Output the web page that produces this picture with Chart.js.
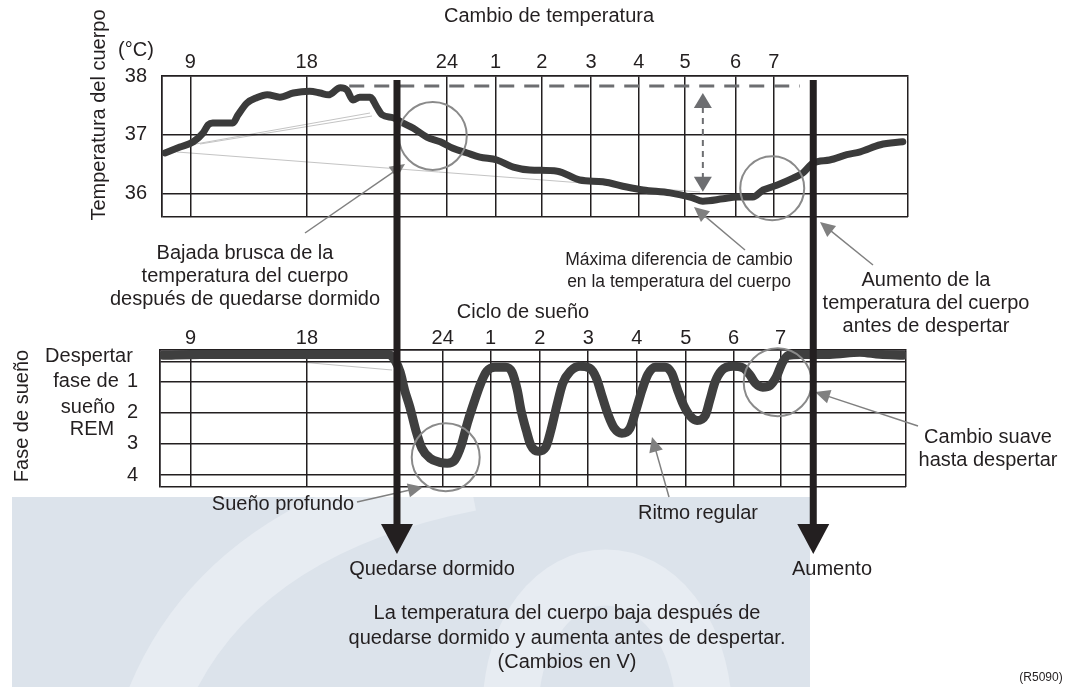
<!DOCTYPE html>
<html>
<head>
<meta charset="utf-8">
<script src="https://cdn.jsdelivr.net/npm/chart.js@4.4.1/dist/chart.umd.min.js"></script>
<style>
  html, body { margin: 0; padding: 0; background: #fff; }
  #wrap { position: relative; width: 1076px; height: 687px; overflow: hidden; }
  #wrap canvas { position: absolute; left: 0; top: 0; }
</style>
</head>
<body>
<div id="wrap">
  <canvas id="bg" width="1076" height="687"></canvas>
  <canvas id="tempChart" width="1076" height="687"></canvas>
  <canvas id="sleepChart" width="1076" height="687"></canvas>
  <canvas id="overlay" width="1076" height="687"></canvas>
</div>
<script>
// hour marks along the (non-uniform) time axis, axis runs 0..100
const hourLabels = ['9', '18', '24', '1', '2', '3', '4', '5', '6', '7'];
const tempHourPos = [3.8, 19.4, 38.2, 44.7, 50.9, 57.5, 63.9, 70.1, 76.9, 82.0];
const sleepHourPos = [4.1, 19.7, 37.9, 44.3, 50.9, 57.4, 63.9, 70.5, 76.9, 83.2];

// body temperature curve
const tempX = [0.4, 2.4, 4.2, 5.5, 6.2, 6.8, 8.7, 9.5, 10.2, 11.4, 12.7, 14.1, 15.8, 17.6, 19.8, 21.2,
  22.3, 23.9, 24.8, 25.6, 26.5, 27.9, 28.8, 29.5, 31.0, 32.3, 33.7, 35.5, 37.3, 39.0, 40.9, 42.6,
  44.9, 47.1, 49.3, 53.0, 56.0, 59.1, 62.3, 64.5, 68.1, 70.8, 72.5, 75.2, 77.1, 79.2, 80.6, 82.4,
  84.6, 85.9, 87.3, 89.5, 91.8, 93.6, 96.3, 99.3];
const tempC = [36.69, 36.79, 36.88, 37.03, 37.17, 37.20, 37.20, 37.20, 37.34, 37.54, 37.63, 37.68, 37.64, 37.71, 37.74, 37.71,
  37.68, 37.80, 37.76, 37.59, 37.64, 37.64, 37.47, 37.34, 37.29, 37.20, 37.11, 36.96, 36.88, 36.77, 36.69, 36.62,
  36.57, 36.45, 36.40, 36.38, 36.23, 36.20, 36.11, 36.06, 36.01, 35.94, 35.87, 35.91, 35.94, 35.94, 36.06, 36.14,
  36.26, 36.35, 36.52, 36.57, 36.66, 36.71, 36.83, 36.88];
const tempTicks = [38, 37, 36];

// sleep stage curve (0 = despierto, 4 = sueño profundo)
const sleepX = [0.4, 5.4, 12.1, 18.8, 25.5, 30.6, 31.5, 32.2, 32.8, 33.5, 34.3, 35.1, 36.2, 37.5, 38.5, 39.5,
  40.4, 41.2, 42.1, 43.0, 43.8, 44.9, 46.3, 47.2, 47.9, 48.4, 49.1, 49.7, 50.7, 51.7, 52.4, 53.2,
  54.0, 55.0, 56.3, 57.6, 58.5, 59.3, 60.1, 60.9, 61.9, 63.0, 63.8, 64.6, 65.4, 66.4, 67.7, 68.6,
  69.4, 70.2, 71.1, 72.0, 73.1, 73.7, 74.4, 75.3, 76.8, 78.2, 79.1, 79.8, 80.8, 81.8, 82.6, 83.4,
  84.2, 85.8, 89.8, 93.8, 96.5, 99.6];
const sleepStage = [0.17, 0.14, 0.14, 0.14, 0.14, 0.14, 0.33, 0.71, 1.29, 1.83, 2.57, 3.14, 3.46, 3.59, 3.62, 3.52,
  3.04, 2.34, 1.67, 1.06, 0.68, 0.55, 0.55, 0.71, 1.29, 1.93, 2.57, 3.04, 3.24, 3.11, 2.57, 1.77,
  1.06, 0.68, 0.52, 0.58, 0.90, 1.51, 2.09, 2.50, 2.66, 2.50, 1.93, 1.29, 0.78, 0.55, 0.55, 0.74,
  1.29, 1.77, 2.12, 2.25, 2.09, 1.61, 1.03, 0.65, 0.52, 0.58, 0.81, 1.06, 1.19, 1.13, 0.87, 0.42,
  0.17, 0.14, 0.14, 0.07, 0.14, 0.17];
const stageTicks = [0.37, 1, 2, 3, 4];

const ink = '#231f20';
const FONT = '"Liberation Sans", Arial, Helvetica, sans-serif';

// --- background watermark + faint leader lines ---
const bg = document.getElementById('bg').getContext('2d');
bg.fillStyle = '#fff';
bg.fillRect(0, 0, 1076, 687);
bg.save();
bg.beginPath();
bg.rect(12, 497, 798, 190);
bg.clip();
bg.fillStyle = '#dce3eb';
bg.fillRect(12, 497, 798, 190);
bg.strokeStyle = '#e7ecf2';
bg.lineWidth = 62;
bg.beginPath();
bg.moveTo(150, 720);
bg.quadraticCurveTo(215, 530, 470, 480);
bg.stroke();
bg.lineWidth = 56;
bg.beginPath();
bg.moveTo(510, 720);
bg.bezierCurveTo(510, 530, 700, 530, 705, 720);
bg.stroke();
bg.restore();

bg.strokeStyle = '#c4c4c4';
bg.lineWidth = 1;
[[177, 152, 700, 192], [190, 145, 370, 113], [200, 144, 372, 116], [300, 362, 392, 370]].forEach(function(l) {
  bg.beginPath();
  bg.moveTo(l[0], l[1]);
  bg.lineTo(l[2], l[3]);
  bg.stroke();
});

// --- shared axis helpers ---
function hourAxis(pos, height, pad) {
  return {
    type: 'linear', position: 'top', min: 0, max: 100,
    afterBuildTicks: function(s) { s.ticks = [0].concat(pos, [100]).map(v => ({ value: v })); },
    afterFit: function(s) { s.height = height; },
    ticks: {
      autoSkip: false, maxRotation: 0, padding: pad, color: ink,
      font: { family: FONT, size: 20 },
      callback: function(v) { const i = pos.indexOf(v); return i >= 0 ? hourLabels[i] : ''; }
    },
    grid: { color: ink, lineWidth: 1.5, drawTicks: false },
    border: { color: ink, width: 1.5 }
  };
}

const tempChart = new Chart(document.getElementById('tempChart'), {
  type: 'line',
  data: {
    datasets: [{
      data: tempX.map((x, i) => ({ x: x, y: tempC[i] })),
      borderColor: '#3b3b3b', borderWidth: 7, pointRadius: 0,
      cubicInterpolationMode: 'monotone', borderCapStyle: 'round', borderJoinStyle: 'round'
    }]
  },
  options: {
    responsive: false, animation: false,
    layout: { padding: { left: 0, top: 0, right: 168, bottom: 470 } },
    plugins: { legend: { display: false }, tooltip: { enabled: false } },
    scales: {
      x: hourAxis(tempHourPos, 76, 2),
      y: {
        min: 35.6, max: 38,
        afterBuildTicks: function(s) { s.ticks = [35.6].concat(tempTicks).map(v => ({ value: v })); },
        afterFit: function(s) { s.width = 162; },
        ticks: {
          autoSkip: false, padding: 15, color: ink, font: { family: FONT, size: 20 },
          callback: v => tempTicks.includes(v) ? String(v) : ''
        },
        grid: { color: ink, lineWidth: 1.5, drawTicks: false },
        border: { color: ink, width: 1.5 }
      }
    }
  }
});

const sleepChart = new Chart(document.getElementById('sleepChart'), {
  type: 'line',
  data: {
    datasets: [{
      data: sleepX.map((x, i) => ({ x: x, y: sleepStage[i] })),
      borderColor: '#3f3f3f', borderWidth: 9, pointRadius: 0,
      cubicInterpolationMode: 'monotone', borderCapStyle: 'round', borderJoinStyle: 'round'
    }]
  },
  options: {
    responsive: false, animation: false,
    layout: { padding: { left: 0, top: 0, right: 170, bottom: 200 } },
    plugins: { legend: { display: false }, tooltip: { enabled: false } },
    scales: {
      x: hourAxis(sleepHourPos, 350, 0),
      y: {
        min: 0, max: 4.38, reverse: true,
        afterBuildTicks: function(s) { s.ticks = [0].concat(stageTicks, [4.38]).map(v => ({ value: v })); },
        afterFit: function(s) { s.width = 160; },
        ticks: {
          autoSkip: false, padding: 22, color: ink, font: { family: FONT, size: 20 },
          callback: v => Number.isInteger(v) && v > 0 && v < 5 ? String(v) : ''
        },
        grid: { color: ink, lineWidth: 1.5, drawTicks: false },
        border: { color: ink, width: 1.5 }
      }
    }
  }
});

// --- annotations ---
const ov = document.getElementById('overlay').getContext('2d');
const tx = tempChart.scales.x, ty = tempChart.scales.y;
const sx = sleepChart.scales.x, sy = sleepChart.scales.y;

function label(text, x, y, size, align) {
  ov.font = size + 'px ' + FONT;
  ov.textAlign = align || 'center';
  ov.textBaseline = 'middle';
  ov.fillStyle = ink;
  ov.fillText(text, x, y);
}

function vlabel(text, x, y, size) {
  ov.save();
  ov.translate(x, y);
  ov.rotate(-Math.PI / 2);
  label(text, 0, 0, size);
  ov.restore();
}

function head(x, y, ang, len, half, color) {
  ov.fillStyle = color;
  ov.beginPath();
  ov.moveTo(x, y);
  ov.lineTo(x - len * Math.cos(ang) + half * Math.sin(ang), y - len * Math.sin(ang) - half * Math.cos(ang));
  ov.lineTo(x - len * Math.cos(ang) - half * Math.sin(ang), y - len * Math.sin(ang) + half * Math.cos(ang));
  ov.closePath();
  ov.fill();
}

function callout(x1, y1, x2, y2) {
  const ang = Math.atan2(y2 - y1, x2 - x1);
  ov.strokeStyle = '#808080';
  ov.lineWidth = 1.5;
  ov.beginPath();
  ov.moveTo(x1, y1);
  ov.lineTo(x2 - 10 * Math.cos(ang), y2 - 10 * Math.sin(ang));
  ov.stroke();
  head(x2, y2, ang, 15, 7, '#808080');
}

function ring(x, y, r) {
  ov.strokeStyle = '#8a8a8a';
  ov.lineWidth = 2;
  ov.beginPath();
  ov.arc(x, y, r, 0, Math.PI * 2);
  ov.stroke();
}

// callout arrows
callout(305, 233, 405, 164);
callout(745, 250, 694, 207);
callout(873, 265, 820, 222);
callout(357, 502, 423, 487);
callout(669, 497, 652, 437);
callout(918, 426, 815, 392);

// max-difference dashed level and double arrow
const peakT = 37.83, lowT = 36.03, topT = 37.71;
ov.strokeStyle = '#6d6e71';
ov.lineWidth = 3;
ov.setLineDash([15, 10]);
ov.beginPath();
ov.moveTo(tx.getPixelForValue(25.1), ty.getPixelForValue(peakT));
ov.lineTo(tx.getPixelForValue(85.5), ty.getPixelForValue(peakT));
ov.stroke();
const dx = tx.getPixelForValue(72.5);
const dTop = ty.getPixelForValue(topT), dBot = ty.getPixelForValue(lowT);
ov.lineWidth = 2;
ov.setLineDash([6, 5]);
ov.beginPath();
ov.moveTo(dx, dTop + 14);
ov.lineTo(dx, dBot - 14);
ov.stroke();
ov.setLineDash([]);
head(dx, dTop, -Math.PI / 2, 15, 9, '#6d6e71');
head(dx, dBot, Math.PI / 2, 15, 9, '#6d6e71');

// circles around the key moments
ring(tx.getPixelForValue(36.3), ty.getPixelForValue(36.98), 34);
ring(tx.getPixelForValue(81.8), ty.getPixelForValue(36.09), 32);
ring(sx.getPixelForValue(38.3), sy.getPixelForValue(3.43), 34);
ring(sx.getPixelForValue(82.8), sy.getPixelForValue(1.03), 34);

// falling asleep / waking up arrows
[31.5, 87.3].forEach(function(u) {
  const x = tx.getPixelForValue(u);
  ov.fillStyle = ink;
  ov.fillRect(x - 3.5, 80, 7, 446);
  head(x, 554, Math.PI / 2, 30, 16, ink);
});

// titles and texts
label('Cambio de temperatura', 549, 16, 20);
label('(°C)', 136, 50, 20);
vlabel('Temperatura del cuerpo', 99, 115, 20);
label('Ciclo de sueño', 523, 312, 20);
vlabel('Fase de sueño', 22, 416, 20);
label('Despertar', 89, 356, 20);
label('fase de', 86, 381, 20);
label('sueño', 88, 407, 20);
label('REM', 92, 429, 20);

label('Bajada brusca de la', 245, 253, 20);
label('temperatura del cuerpo', 245, 276, 20);
label('después de quedarse dormido', 245, 299, 20);
label('Máxima diferencia de cambio', 679, 260, 17.5);
label('en la temperatura del cuerpo', 679, 282, 17.5);
label('Aumento de la', 926, 280, 20);
label('temperatura del cuerpo', 926, 303, 20);
label('antes de despertar', 926, 326, 20);
label('Cambio suave', 988, 437, 20);
label('hasta despertar', 988, 460, 20);
label('Sueño profundo', 283, 504, 20);
label('Ritmo regular', 698, 513, 20);
label('Quedarse dormido', 432, 569, 20);
label('Aumento', 832, 569, 20);
label('La temperatura del cuerpo baja después de', 567, 613, 20);
label('quedarse dormido y aumenta antes de despertar.', 567, 638, 20);
label('(Cambios en V)', 567, 662, 20);
label('(R5090)', 1041, 678, 12);
</script>
</body>
</html>
